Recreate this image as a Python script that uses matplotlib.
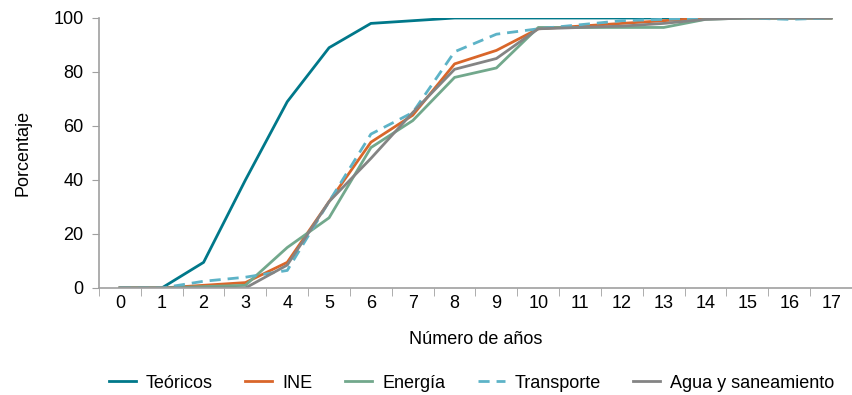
import numpy as np
import matplotlib.pyplot as plt

# Años y curvas de porcentaje acumulado
years = list(range(18))
teoricos = [0, 0, 9.5, 40, 69, 89, 98, 99, 100, 100, 100, 100, 100, 100, 100, 100, 100, 100]
ine = [0, 0, 1, 2, 9.5, 32, 54, 64, 83, 88, 96, 97, 98, 99, 100, 100, 100, 100]
energia = [0, 0, 0.5, 1, 15, 26, 52, 62, 78, 81.5, 96.5, 96.5, 96.5, 96.5, 99.5, 100, 100, 100]
transporte = [0, 0, 2.5, 4, 6.5, 32, 57, 65, 87.5, 94, 96, 97.5, 99, 99.5, 100, 100, 99.5, 100]
agua = [0, 0, 0, 0, 8.5, 32, 48, 65, 81, 85, 96, 96.5, 97, 98, 99.5, 100, 100, 100]

plt.rcParams['font.family'] = ['Liberation Sans', 'DejaVu Sans']
plt.rcParams['font.size'] = 13

fig = plt.figure(figsize=(8.53, 3.95), dpi=100)
ax = fig.add_axes([99/853, 1 - 288/395, 753/853, 270/395])

ax.plot(years, teoricos, color="#00788A", lw=2, label="Teóricos")
ax.plot(years, ine, color="#D9662A", lw=2, label="INE")
ax.plot(years, energia, color="#72A88C", lw=2, label="Energía")
ax.plot(years, transporte, color="#5DB3C7", lw=2, ls=(0, (4, 2.5)), label="Transporte")
ax.plot(years, agua, color="#848484", lw=2, label="Agua y saneamiento")

ax.set_xlim(-0.5, 17.5)
ax.set_ylim(0, 100)
ax.set_xticks(years)
ax.set_xticks(np.arange(-0.5, 17.6, 1), minor=True)
ax.set_yticks(range(0, 101, 20))
ax.tick_params(axis="x", which="major", length=0, pad=5)
ax.tick_params(axis="x", which="minor", length=6, color="#A0A0A0", direction="out")
ax.tick_params(axis="y", length=5, color="#A0A0A0", direction="out", pad=6)

for s in ["top", "right"]:
    ax.spines[s].set_visible(False)
for s in ["left", "bottom"]:
    ax.spines[s].set_color("#A0A0A0")
    ax.spines[s].set_linewidth(1.2)

ax.set_xlabel("Número de años", labelpad=14)
ax.set_ylabel("Porcentaje", labelpad=16)

fig.legend(loc="center", bbox_to_anchor=(0.553, 1 - 383/395), ncol=5, frameon=False,
           handlelength=1.5, columnspacing=1.8, handletextpad=0.55)

fig.savefig("out.png", dpi=100)
